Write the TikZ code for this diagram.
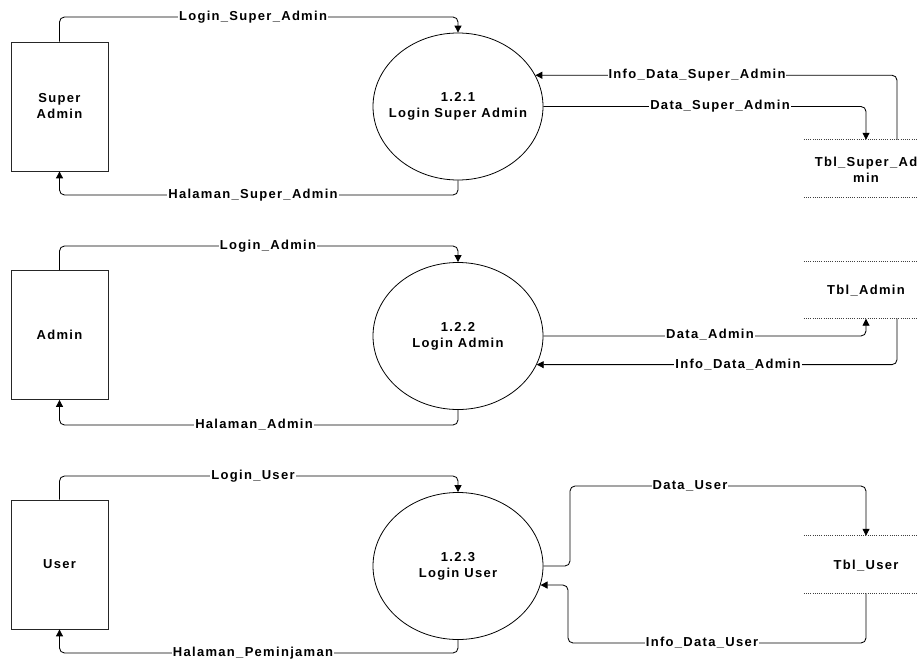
\documentclass[tikz,border=0pt]{standalone}
\usepackage{fontspec}
\setmainfont{Liberation Sans}[LetterSpace=10]
\usetikzlibrary{arrows.meta,shapes.geometric}

\begin{document}
\begin{tikzpicture}[x=1pt,y=-1pt,
  font=\fontsize{13}{16}\selectfont\bfseries,
  entity/.style={draw=black!85, line width=0.8pt, minimum width=97pt, minimum height=129pt, inner sep=0pt, align=center},
  proc/.style={draw, ellipse, line width=0.8pt, minimum width=170pt, minimum height=147pt, inner sep=0pt},
  ptext/.style={align=center, inner sep=0pt},
  store/.style={minimum width=124pt, minimum height=57pt, inner sep=0pt},
  stext/.style={align=center, inner sep=0pt},
  storeline/.style={line width=0.7pt, dash pattern=on 1pt off 1.2pt, black!75},
  flow/.style={line width=0.85pt, rounded corners=5pt, -{Triangle[length=7pt,width=7pt]}},
  lbl/.style={fill=white, inner sep=1pt}
]
\useasboundingbox (0,0) rectangle (917,658);

% ---------- Super Admin ----------
\node[entity] (sa) at (59.5,106.5) {Super\\Admin};
\node[proc] (p1) at (458,106.5) {};
\node[ptext] (p1t) at (p1) {1.2.1\\Login Super Admin};
\node[store] (ds1) at (866,168.5) {};
\node[stext] (ds1t) at (866,170) {Tbl\_Super\_Ad\\min};

\draw[flow] (sa.north) -- (sa.north |- 0,17) -| (p1.north);
\draw[flow] (p1.south) -- (p1.south |- 0,195) -| (sa.south);
\draw[flow] (p1.east) -| (ds1.north);
\draw[flow] (ds1.north -| 897,0) |- (p1.22.3);

% ---------- Admin ----------
\node[entity] (ad) at (59.5,335) {Admin};
\node[proc] (p2) at (458,336) {};
\node[ptext] (p2t) at (p2) {1.2.2\\Login Admin};
\node[store] (ds2) at (866,290) {};
\node[stext] (ds2t) at (866,291) {Tbl\_Admin};

\draw[flow] (ad.north) -- (ad.north |- 0,246) -| (p2.north);
\draw[flow] (p2.south) -- (p2.south |- 0,425) -| (ad.south);
\draw[flow] (p2.east) -| (ds2.south);
\draw[flow] (ds2.south -| 897,0) |- (p2.-20.4);

% ---------- User ----------
\node[entity] (us) at (59.5,564.5) {User};
\node[proc] (p3) at (458,566) {};
\node[ptext] (p3t) at (p3) {1.2.3\\Login User};
\node[store] (ds3) at (866,564.5) {};
\node[stext] (ds3t) at (866,566) {Tbl\_User};

\draw[flow] (us.north) -- (us.north |- 0,476) -| (p3.north);
\draw[flow] (p3.south) -- (p3.south |- 0,653) -| (us.south);
\draw[flow] (p3.east) -- (p3.east -| 570,0) |- (ds3.north |- 0,486) -- (ds3.north);
\draw[flow] (ds3.south) |- (568,643) |- (p3.-13);

% data store edges
\foreach \s in {ds1,ds2,ds3}
  \draw[storeline] (\s.north west) -- (\s.north east) (\s.south west) -- (\s.south east);

% flow labels
\node[lbl] at (253,17) {Login\_Super\_Admin};
\node[lbl] at (253,195) {Halaman\_Super\_Admin};
\node[lbl] at (697,75) {Info\_Data\_Super\_Admin};
\node[lbl] at (720,106) {Data\_Super\_Admin};

\node[lbl] at (268,246) {Login\_Admin};
\node[lbl] at (254,425) {Halaman\_Admin};
\node[lbl] at (710,335) {Data\_Admin};
\node[lbl] at (738,365) {Info\_Data\_Admin};

\node[lbl] at (253,476) {Login\_User};
\node[lbl] at (253,653) {Halaman\_Peminjaman};
\node[lbl] at (690,486) {Data\_User};
\node[lbl] at (702,643) {Info\_Data\_User};
\end{tikzpicture}
\end{document}
